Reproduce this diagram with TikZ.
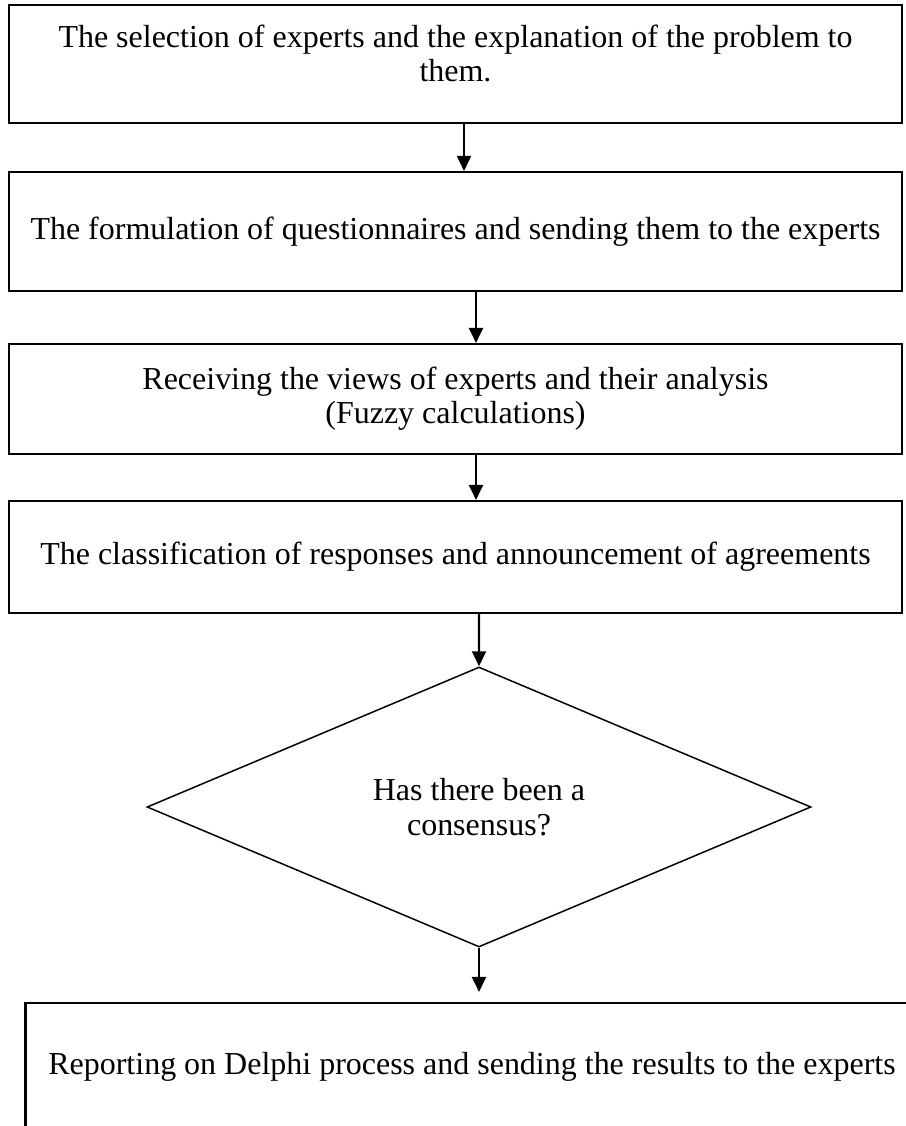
\documentclass[tikz,border=0pt]{standalone}
\usepackage{fontspec}
\setmainfont{Liberation Serif}
\usepackage{tikz}
\usetikzlibrary{shapes,arrows.meta,positioning}
\tikzset{
    every node/.style={font=\fontsize{18.2}{19.5}\selectfont},
    stepbox/.style={draw,line width=1.2pt,minimum width=17.86cm,inner sep=0pt},
    decision/.style={diamond,draw,line width=0.85pt,minimum width=13.28cm,minimum height=5.6cm,inner sep=0pt,align=center},
    flow/.style={line width=1.2pt,-{Triangle[length=0.3cm,width=0.28cm]}}
}

\begin{document}
\begin{tikzpicture}
    \useasboundingbox (0,0) rectangle (18.1,-22.52);

    % Draw the process boxes
    \node[stepbox,minimum height=2.36cm] (select) at (9.11,-1.28) {};
    \node[align=center] (selecttxt) at (9.11,-1.07) {The selection of experts and the explanation of the problem to\\them.};
    \node[stepbox,minimum height=2.38cm] (formulate) at (9.11,-4.63) {The formulation of questionnaires and sending them to the experts};
    \node[stepbox,minimum height=2.2cm,align=center] (receive) at (9.11,-7.98) {Receiving the views of experts and their analysis\\(Fuzzy calculations)};
    \node[stepbox,minimum height=2.24cm] (classify) at (9.11,-11.14) {The classification of responses and announcement of agreements};

    % Draw the decision and the last box
    \node[decision] (consensus) at (9.58,-16.14) {Has there been a\\consensus?};
    \node[stepbox,minimum height=2.56cm] (report) at (9.44,-21.34) {Reporting on Delphi process and sending the results to the experts};

    % Draw arrows
    \draw[flow] ([xshift=0.17cm]select.south) -- ([xshift=0.17cm]formulate.north);
    \draw[flow] ([xshift=0.41cm]formulate.south) -- ([xshift=0.41cm]receive.north);
    \draw[flow] ([xshift=0.41cm]receive.south) -- ([xshift=0.41cm]classify.north);
    \draw[flow] ([xshift=0.47cm]classify.south) -- (consensus.north);
    \draw[flow] (consensus.south) -- ([xshift=0.14cm,yshift=0.2cm]report.north);
\end{tikzpicture}
\end{document}
